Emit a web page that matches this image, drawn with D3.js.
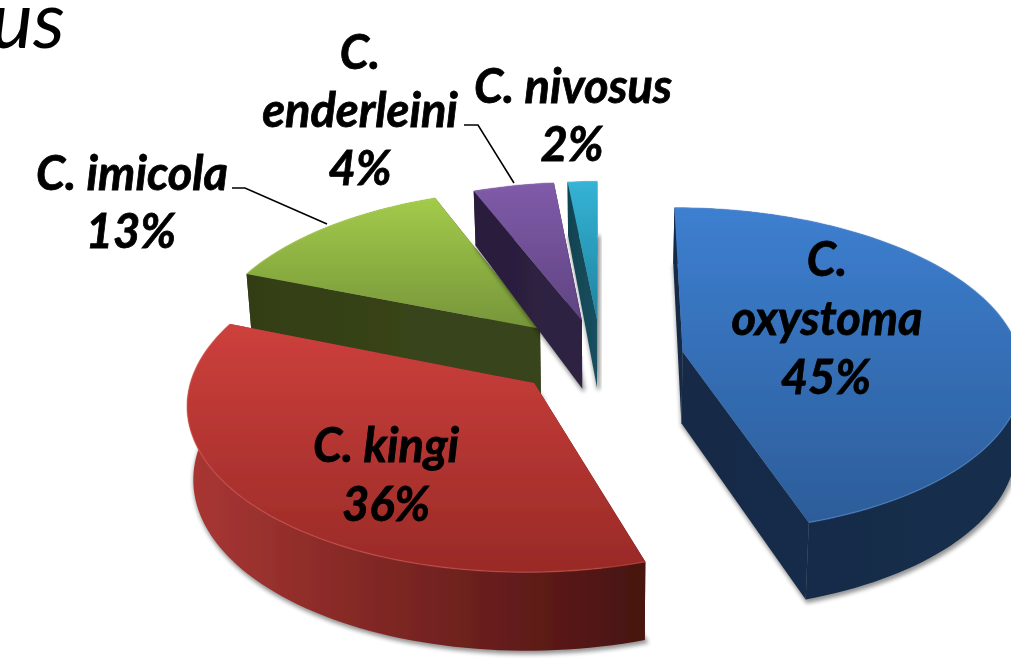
<!DOCTYPE html>
<html><head><meta charset="utf-8">
<script src="https://cdn.jsdelivr.net/npm/d3@7/dist/d3.min.js"></script>
<style>html,body{margin:0;padding:0;background:#fff;overflow:hidden}svg{display:block}</style>
</head><body><div id="chart"></div>
<script>
// ---- data ----
const categories = ["C. oxystoma", "C. kingi", "C. imicola", "C. enderleini", "C. nivosus"];
const values = [45, 36, 13, 4.4, 1.6];
const titleFragment = "us";

// ---- styles ----
const topColors = [["#3d7fd0","#2c5d9a"],["#cd403c","#992a27"],["#a3cb4a","#76953a"],["#805ba9","#5f4482"],["#35b3d5","#1f84a0"]];
const sideColors = [["#142a46","#172e4c"],["#a83633","#471210"],["#333e15","#38451a"],["#2a1d3b","#2e2142"],["#114452","#134f60"]];
const rimColors = ["#5b93da","#dc5a55","#b5d866","#9676bd","#5cc5e0"];

// ---- layout & projection ----
const W = 1011, H = 662;
const R = 338, D = 3000, VX = 601, VY = -1077, PH = 1435;
const explode = [83, 90, 88, 83, 83];
const backShift = [0, 10, 0, 0, 0];
const wallHeight = d3.scaleLinear().domain([0.88, 1, 1.16]).range([54, 72, 79]);
function project(X, Y, bottom) {
  const s = D / (D + Y);
  let x = VX + X * s, y = VY + PH * s;
  if (bottom) { y += wallHeight(s); x = VX + (x - VX) * 0.985; }
  return [x, y];
}
const pie = d3.pie().sort(null).startAngle(0).endAngle(2 * Math.PI);
const arcs = pie(values);
const lineGen = d3.line();

const svg = d3.select("#chart").append("svg").attr("width", W).attr("height", H).attr("viewBox", `0 0 ${W} ${H}`);
const defs = svg.append("defs");
defs.append("filter").attr("id","soft").attr("x","-5%").attr("y","-5%").attr("width","110%").attr("height","110%")
  .append("feGaussianBlur").attr("stdDeviation",0.55);
defs.append("filter").attr("id","shadow").attr("x","-10%").attr("y","-10%").attr("width","120%").attr("height","120%")
  .append("feGaussianBlur").attr("stdDeviation",2.2);

function slicePts(a, i, bottom) {
  const mid = (a.startAngle + a.endAngle) / 2;
  const ox = explode[i] * Math.sin(mid), oy = explode[i] * Math.cos(mid) + backShift[i];
  const n = Math.max(6, Math.ceil((a.endAngle - a.startAngle) / 0.03));
  const rim = d3.range(n + 1).map(k => {
    const t = a.startAngle + (a.endAngle - a.startAngle) * k / n;
    return project(ox + R * Math.sin(t), oy + R * Math.cos(t), bottom);
  });
  return { apex: project(ox, oy, bottom), rim };
}
function addGrad(id, c, x1, y1, x2, y2) {
  const g = defs.append("linearGradient").attr("id", id).attr("gradientUnits","userSpaceOnUse")
    .attr("x1",x1).attr("y1",y1).attr("x2",x2).attr("y2",y2);
  g.append("stop").attr("offset",0).attr("stop-color",c[0]);
  g.append("stop").attr("offset",1).attr("stop-color",c[1]);
}

const root = svg.append("g").attr("filter","url(#soft)");
const drawOrder = [2, 3, 4, 0, 1];
drawOrder.forEach(i => {
  const a = arcs[i];
  const T = slicePts(a, i, false), B = slicePts(a, i, true);
  const g = root.append("g");
  const ext = d3.extent(T.rim.concat([T.apex]), d => d[1]);
  const extX = d3.extent(B.rim, d => d[0]);
  addGrad("top"+i, topColors[i], 0, ext[0], 0, ext[1]);
  addGrad("side"+i, sideColors[i], extX[0], 0, extX[1], 0);

  // soft shadow under the base
  g.append("path").attr("d", lineGen([B.apex, ...B.rim]) + "Z")
    .attr("fill","#000").attr("stroke","#000").attr("stroke-width",3).attr("opacity",0.42)
    .attr("transform","translate(1.5,2)").attr("filter","url(#shadow)");

  const first = T.rim[0], last = T.rim[T.rim.length-1];
  const bFirst = B.rim[0], bLast = B.rim[B.rim.length-1];
  const side = `url(#side${i})`;
  g.append("path").attr("d", lineGen([T.apex, first, bFirst, B.apex]) + "Z").attr("fill", side);
  g.append("path").attr("d", lineGen([T.apex, last, bLast, B.apex]) + "Z").attr("fill", side);
  g.append("path").attr("d", lineGen([...T.rim, ...B.rim.slice().reverse()]) + "Z").attr("fill", side);
  g.append("path").attr("d", lineGen([T.apex, ...T.rim]) + "Z").attr("fill", `url(#top${i})`);
  g.append("path").attr("d", lineGen(T.rim)).attr("fill","none").attr("stroke",rimColors[i])
    .attr("stroke-width",1.4).attr("opacity",0.5);
});

// ---- labels ----
const labelLayout = [
  { lines: [["C.",827,276],["oxystoma",827,335],[null,826,394]] },
  { lines: [["C. kingi",386,462],[null,386,521]] },
  { lines: [["C. imicola",132,190],[null,131,248]] },
  { lines: [["C.",360,69],["enderleini",360,127],[null,360,185]] },
  { lines: [["C. nivosus",573,103],[null,572,161]] }
];
const total = d3.sum(values);
const fmt = d3.format(".0%");
const txt = root.append("g").attr("font-family","Lato, 'Open Sans', sans-serif")
  .attr("font-style","italic").attr("font-weight",700).attr("font-size",47)
  .attr("fill","#000").attr("stroke","#000").attr("stroke-width",0.8).attr("text-anchor","middle");
labelLayout.forEach((l, i) => {
  l.lines.forEach(([t, x, y]) => {
    txt.append("text").attr("x",x).attr("y",y).text(t === null ? fmt(values[i]/total) : t);
  });
});
root.append("text").attr("x",65).attr("y",48).attr("text-anchor","end")
  .attr("font-family","Lato, 'Open Sans', sans-serif").attr("font-style","italic").attr("font-size",80)
  .attr("fill","#000").text(titleFragment);

// ---- leader lines ----
const leaders = [[[232,188],[245,188],[327,224]],[[464,125],[478,125],[514,183]]];
leaders.forEach(p => root.append("path").attr("d", lineGen(p)).attr("fill","none").attr("stroke","#000").attr("stroke-width",1.6));
</script></body></html>
